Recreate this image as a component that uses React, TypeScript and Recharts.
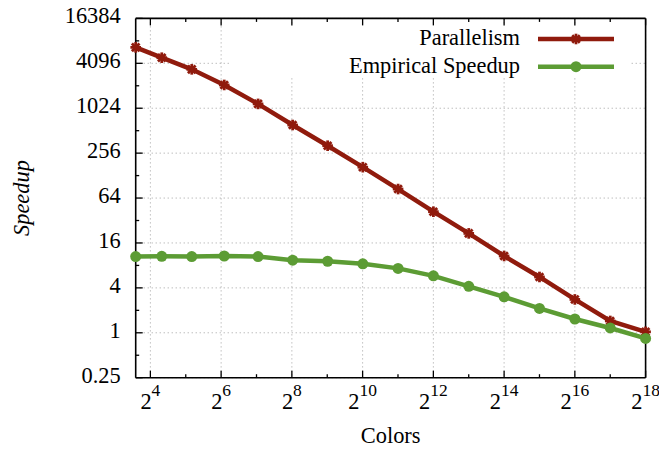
import React from "react";
import { LineChart, Line, XAxis, YAxis, CartesianGrid, Legend } from "recharts";

const colors = [12, 20, 36, 68, 132, 260, 516, 1028, 2052, 4100, 8196, 16388, 32772, 65540, 131076, 262148];
const parallelism = [6700, 4870, 3400, 2100, 1170, 610, 322, 166, 84.5, 42, 21.5, 10.7, 5.6, 2.8, 1.44, 1.03];
const empiricalSpeedup = [10.5, 10.6, 10.5, 10.7, 10.5, 9.4, 9.1, 8.4, 7.3, 5.8, 4.2, 3.03, 2.12, 1.53, 1.16, 0.84];

const xTicks = [16, 32, 64, 128, 256, 512, 1024, 2048, 4096, 8192, 16384, 32768, 65536, 131072, 262144];
const xMajor = [16, 64, 256, 1024, 4096, 16384, 65536, 262144];
const yTicks = [0.25, 0.5, 1, 2, 4, 8, 16, 32, 64, 128, 256, 512, 1024, 2048, 4096, 8192, 16384];
const yMajor = [0.25, 1, 4, 16, 64, 256, 1024, 4096, 16384];

const seriesNames = ["Parallelism", "Empirical Speedup"];

const data = colors.map((c, i) => ({
  colors: c,
  parallelism: parallelism[i],
  speedup: empiricalSpeedup[i],
}));

const RED = "#901b0d";
const GREEN = "#5c9c34";
const FONT = "Liberation Serif, Times New Roman, serif";
const FS = 22.4;
const textStyle = { fontFamily: FONT } as React.CSSProperties;

const isMajor = (v: number) => Math.round(Math.log2(v)) % 2 === 0;

const LeftTick = (props: any) => {
  const { x, y, payload } = props;
  const v = payload.value;
  const major = isMajor(v);
  return (
    <g>
      <line x1={x} y1={y} x2={x + (major ? 7 : 3.5)} y2={y} stroke="#000" strokeWidth={1.3} />
      {major && (
        <text x={x - 15} y={y + 5} textAnchor="end" fontSize={FS} style={textStyle} fill="#000">
          {String(v)}
        </text>
      )}
    </g>
  );
};

const RightTick = (props: any) => {
  const { x, y, payload } = props;
  const major = isMajor(payload.value);
  return <line x1={x} y1={y} x2={x - (major ? 7 : 3.5)} y2={y} stroke="#000" strokeWidth={1.3} />;
};

const BottomTick = (props: any) => {
  const { x, y, payload } = props;
  const v = payload.value;
  const major = isMajor(v);
  const exp = Math.round(Math.log2(v));
  return (
    <g>
      <line x1={x} y1={y} x2={x} y2={y - (major ? 7 : 3.5)} stroke="#000" strokeWidth={1.3} />
      {major && (
        <text x={x} y={y + 31} textAnchor="middle" fontSize={FS} style={textStyle} fill="#000">
          <tspan>2</tspan>
          <tspan dy={-13} fontSize={17.5}>{exp}</tspan>
        </text>
      )}
    </g>
  );
};

const TopTick = (props: any) => {
  const { x, y, payload } = props;
  const major = isMajor(payload.value);
  return <line x1={x} y1={y} x2={x} y2={y + (major ? 7 : 3.5)} stroke="#000" strokeWidth={1.3} />;
};

const StarDot = (props: any) => {
  const { cx, cy } = props;
  if (cx == null || cy == null) return null;
  const r = 5.3;
  const d = 3.8;
  return (
    <g stroke={RED} strokeWidth={2.8}>
      <line x1={cx - r} y1={cy} x2={cx + r} y2={cy} />
      <line x1={cx} y1={cy - r} x2={cx} y2={cy + r} />
      <line x1={cx - d} y1={cy - d} x2={cx + d} y2={cy + d} />
      <line x1={cx - d} y1={cy + d} x2={cx + d} y2={cy - d} />
    </g>
  );
};

const CircleDot = (props: any) => {
  const { cx, cy } = props;
  if (cx == null || cy == null) return null;
  return <circle cx={cx} cy={cy} r={5.5} fill={GREEN} />;
};

const YLabel = (props: any) => {
  const vb = props.viewBox || {};
  const cy = (vb.y ?? 18.4) + (vb.height ?? 359.3) / 2;
  return (
    <text
      transform="rotate(-90)"
      x={-cy}
      y={29}
      textAnchor="middle"
      fontSize={FS}
      fontStyle="italic"
      style={textStyle}
      fill="#000"
    >
      Speedup
    </text>
  );
};

const XLabel = (props: any) => {
  const vb = props.viewBox || {};
  const cx = (vb.x ?? 135.7) + (vb.width ?? 510) / 2;
  const top = vb.y ?? 377.7;
  return (
    <text x={cx} y={top + 65.5} textAnchor="middle" fontSize={FS} style={textStyle} fill="#000">
      Colors
    </text>
  );
};

const LegendContent = () => (
  <div style={{ background: "#fff", width: 400, height: 52 }}>
    <svg width={400} height={52} style={{ display: "block" }}>
      <text x={290} y={19} textAnchor="end" fontSize={FS} style={textStyle} fill="#000">
        {seriesNames[0]}
      </text>
      <line x1={308} y1={13} x2={384} y2={13} stroke={RED} strokeWidth={4.5} />
      <StarDot cx={346} cy={13} />
      <text x={290} y={46.7} textAnchor="end" fontSize={FS} style={textStyle} fill="#000">
        {seriesNames[1]}
      </text>
      <line x1={308} y1={40.7} x2={384} y2={40.7} stroke={GREEN} strokeWidth={4.5} />
      <CircleDot cx={346} cy={40.7} />
    </svg>
  </div>
);

export default function App() {
  return (
    <div style={{ position: "absolute", left: 0, top: 0, background: "#fff", fontFamily: FONT }}>
      <LineChart width={659} height={449} data={data} margin={{ top: 0, right: 0, bottom: 0, left: 0 }}>
        <CartesianGrid
          horizontalValues={yMajor}
          verticalValues={xMajor}
          stroke="#a0a0a0"
          strokeDasharray="1 3"
          strokeWidth={1}
        />
        <XAxis
          dataKey="colors"
          type="number"
          scale="log"
          domain={[12, 262148]}
          ticks={xTicks}
          interval={0}
          tick={<BottomTick />}
          tickLine={false}
          tickSize={0}
          tickMargin={0}
          height={71.3}
          axisLine={{ stroke: "#000", strokeWidth: 1.6 }}
          label={<XLabel />}
        />
        <XAxis
          xAxisId="top"
          orientation="top"
          dataKey="colors"
          type="number"
          scale="log"
          domain={[12, 262148]}
          ticks={xTicks}
          interval={0}
          tick={<TopTick />}
          tickLine={false}
          tickSize={0}
          tickMargin={0}
          height={18.4}
          axisLine={{ stroke: "#000", strokeWidth: 1.6 }}
        />
        <YAxis
          type="number"
          scale="log"
          domain={[0.25, 16384]}
          ticks={yTicks}
          interval={0}
          tick={<LeftTick />}
          tickLine={false}
          tickSize={0}
          tickMargin={0}
          width={135.7}
          axisLine={{ stroke: "#000", strokeWidth: 1.6 }}
          label={<YLabel />}
        />
        <YAxis
          yAxisId="right"
          orientation="right"
          type="number"
          scale="log"
          domain={[0.25, 16384]}
          ticks={yTicks}
          interval={0}
          tick={<RightTick />}
          tickLine={false}
          tickSize={0}
          tickMargin={0}
          width={13.4}
          axisLine={{ stroke: "#000", strokeWidth: 1.6 }}
        />
        <Legend
          layout="vertical"
          align="center"
          verticalAlign="middle"
          content={<LegendContent />}
          wrapperStyle={{ left: 230, top: 26, width: 400, height: 52, position: "absolute" }}
        />
        <Line
          dataKey="parallelism"
          name={seriesNames[0]}
          stroke={RED}
          strokeWidth={4.5}
          dot={<StarDot />}
          isAnimationActive={false}
          type="linear"
        />
        <Line
          dataKey="speedup"
          name={seriesNames[1]}
          stroke={GREEN}
          strokeWidth={4.5}
          dot={<CircleDot />}
          isAnimationActive={false}
          type="linear"
        />
      </LineChart>
    </div>
  );
}
